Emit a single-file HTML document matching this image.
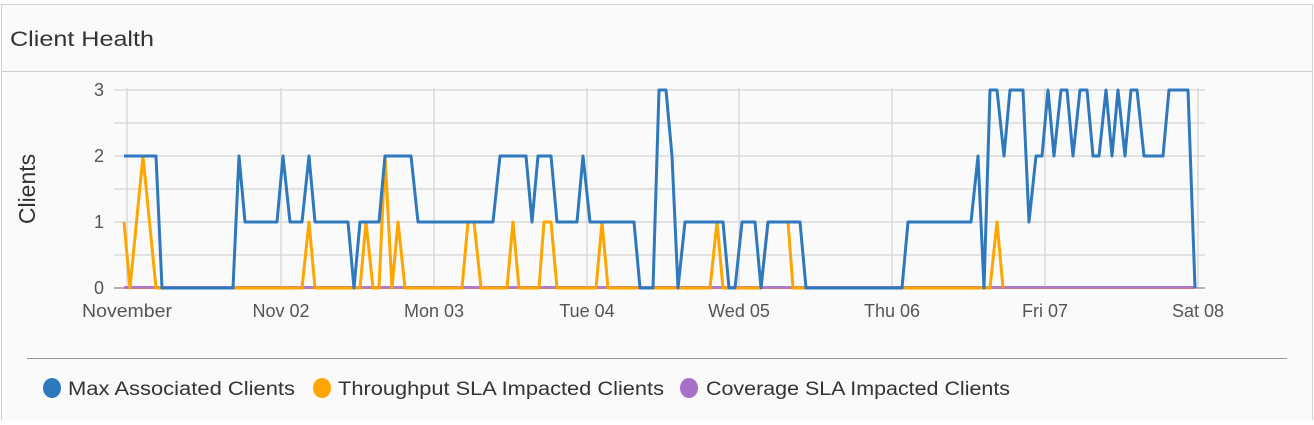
<!DOCTYPE html>
<html><head><meta charset="utf-8"><style>
html,body{margin:0;padding:0;background:#fff;}
body{width:1314px;height:420px;overflow:hidden;font-family:"Liberation Sans",sans-serif;}
</style></head><body>
<svg width="1314" height="420" viewBox="0 0 1314 420" xmlns="http://www.w3.org/2000/svg" font-family="Liberation Sans, sans-serif">
<rect x="1.5" y="4.5" width="1311" height="420" fill="#fafafa" stroke="#d0d0d0"/>
<line x1="2" y1="71.5" x2="1312" y2="71.5" stroke="#d0d0d0"/>
<text x="10" y="46" font-size="21" fill="#333" textLength="144" lengthAdjust="spacingAndGlyphs">Client Health</text>
<g stroke="#d9d9d9" stroke-width="1.5">
<line x1="114" y1="90" x2="1205" y2="90"/><line x1="114" y1="123" x2="1205" y2="123"/>
<line x1="114" y1="156" x2="1205" y2="156"/><line x1="114" y1="189" x2="1205" y2="189"/>
<line x1="114" y1="222" x2="1205" y2="222"/><line x1="114" y1="255" x2="1205" y2="255"/>
<line x1="127" y1="88" x2="127" y2="288"/><line x1="281" y1="88" x2="281" y2="288"/>
<line x1="434" y1="88" x2="434" y2="288"/><line x1="587" y1="88" x2="587" y2="288"/>
<line x1="739" y1="88" x2="739" y2="288"/><line x1="892" y1="88" x2="892" y2="288"/>
<line x1="1045" y1="88" x2="1045" y2="288"/><line x1="1198" y1="88" x2="1198" y2="288"/>
</g>
<line x1="114" y1="288" x2="1205" y2="288" stroke="#999" stroke-width="1.5"/>
<g font-size="18" fill="#555" text-anchor="end">
<text x="104" y="96">3</text><text x="104" y="162">2</text><text x="104" y="228">1</text><text x="104" y="294">0</text>
</g>
<text transform="translate(35,189) rotate(-90)" font-size="23" fill="#333" text-anchor="middle">Clients</text>
<g font-size="18" fill="#555" text-anchor="middle">
<text x="127" y="317" textLength="90" lengthAdjust="spacingAndGlyphs">November</text><text x="281" y="317">Nov 02</text><text x="434" y="317">Mon 03</text>
<text x="587" y="317">Tue 04</text><text x="739" y="317">Wed 05</text><text x="892" y="317">Thu 06</text>
<text x="1045" y="317">Fri 07</text><text x="1198" y="317">Sat 08</text>
</g>
<line x1="124" y1="287.5" x2="1195" y2="287.5" stroke="#b07ac8" stroke-width="3"/>
<line x1="124" y1="288.5" x2="1195" y2="288.5" stroke="#c87a8a" stroke-width="1"/>
<polyline fill="none" stroke="#ffa500" stroke-width="3" stroke-linejoin="round" points="124,222 130,288 143,156 156,288 302,288 309,222 315,288 360,288 366,222 373,288 379,288 385,156 392,288 398,222 405,288 462,288 468,222 474,222 481,288 507,288 513,222 519,288 539,288 544,222 551,222 557,288 596,288 602,222 608,288 710,288 717,222 723,288 761,288 768,222 788,222 793,288 990,288 997,222 1003,288"/>
<polyline fill="none" stroke="#2e78bd" stroke-width="3" stroke-linejoin="round" points="124,156 156,156 162,288 233,288 239,156 245,222 277,222 283,156 290,222 302,222 309,156 315,222 348,222 354,288 360,222 379,222 385,156 411,156 418,222 493,222 500,156 526,156 532,222 538,156 551,156 557,222 577,222 583,156 590,222 634,222 640,288 653,288 659,90 666,90 672,156 678,288 685,222 723,222 729,288 735,288 742,222 755,222 761,288 768,222 800,222 806,288 902,288 908,222 971,222 978,156 984,288 990,90 997,90 1004,156 1010,90 1023,90 1029,222 1036,156 1042,156 1048,90 1054,156 1061,90 1067,90 1073,156 1080,90 1087,90 1093,156 1099,156 1106,90 1112,156 1118,90 1125,156 1131,90 1137,90 1144,156 1163,156 1169,90 1188,90 1195,288"/>
<line x1="27" y1="358.5" x2="1287" y2="358.5" stroke="#999" stroke-width="1"/>
<g font-size="19" fill="#333">
<ellipse cx="52" cy="388" rx="9" ry="10" fill="#2e78bd"/>
<text x="68" y="395" textLength="227" lengthAdjust="spacingAndGlyphs">Max Associated Clients</text>
<ellipse cx="322" cy="388" rx="9" ry="10" fill="#ffa500"/>
<text x="338" y="395" textLength="326" lengthAdjust="spacingAndGlyphs">Throughput SLA Impacted Clients</text>
<ellipse cx="689" cy="388" rx="9" ry="10" fill="#a86fc9"/>
<text x="706" y="395" textLength="304" lengthAdjust="spacingAndGlyphs">Coverage SLA Impacted Clients</text>
</g>
</svg>
</body></html>
